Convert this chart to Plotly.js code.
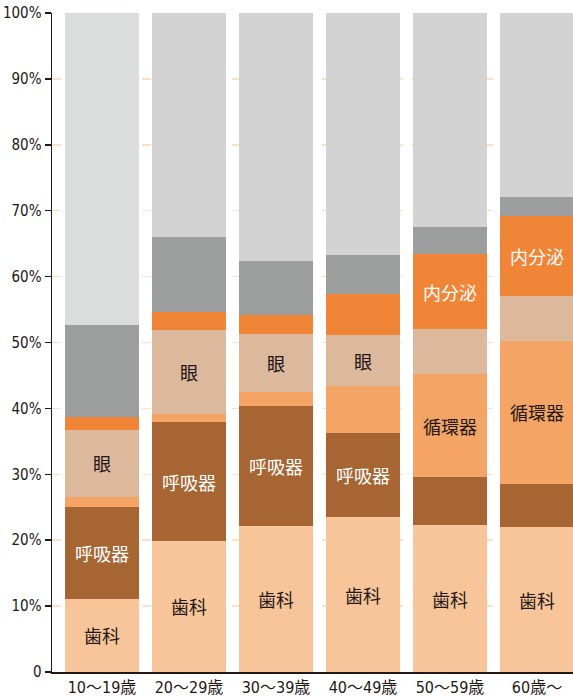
<!DOCTYPE html>
<html><head><meta charset="utf-8">
<script src="https://cdn.plot.ly/plotly-3.0.1.min.js"></script>
<style>html,body{margin:0;padding:0;background:#fff;}#chart{width:573px;height:697px;}</style>
</head><body><div id="chart"></div>
<script>
const categories = ["10〜19歳","20〜29歳","30〜39歳","40〜49歳","50〜59歳","60歳〜"];
const dental      = [11.1, 19.9, 22.2, 23.5, 22.3, 22.0];
const respiratory = [14.0, 18.0, 18.1, 12.8,  7.3,  6.6];
const circulatory = [ 1.5,  1.3,  2.2,  7.1, 15.6, 21.6];
const eye         = [10.1, 12.7,  8.8,  7.7,  6.8,  6.9];
const endocrine   = [ 2.0,  2.7,  2.9,  6.3, 11.4, 12.1];
const other       = [14.0, 11.4,  8.2,  5.9,  4.1,  2.9];
const rest        = [47.3, 34.0, 37.6, 36.7, 32.5, 27.9];
const dentalLabels      = ["歯科","歯科","歯科","歯科","歯科","歯科"];
const respiratoryLabels = ["呼吸器","呼吸器","呼吸器","呼吸器","",""];
const circulatoryLabels = ["","","","","循環器","循環器"];
const eyeLabels         = ["眼","眼","眼","眼","",""];
const endocrineLabels   = ["","","","","内分泌","内分泌"];
const yTickVals  = [0,10,20,30,40,50,60,70,80,90,100];
const yTickTexts = ["0","10%","20%","30%","40%","50%","60%","70%","80%","90%","100%"];

const dark = "#231815";
const font = "'Noto Sans CJK JP', 'Noto Sans', sans-serif";
const tickFont = "'Liberation Sans Narrow', 'DejaVu Sans Condensed', 'Noto Sans CJK JP', sans-serif";
function tr(y, color, labels, tcolor){
  return {type:"bar", x:categories, y:y, marker:{color:color, line:{width:0}},
    text:labels||null, textposition: labels? "inside":"none", insidetextanchor:"middle",
    textangle:0, constraintext:"none",
    textfont:{family:font, size:18, color:tcolor||dark}, hoverinfo:"none", cliponaxis:false};
}
const data = [
  tr(dental, "#F8C59A", dentalLabels, dark),
  tr(respiratory, "#A66532", respiratoryLabels, "#ffffff"),
  tr(circulatory, "#F4A566", circulatoryLabels, dark),
  tr(eye, "#DCB99C", eyeLabels, dark),
  tr(endocrine, "#F08537", endocrineLabels, "#ffffff"),
  tr(other, "#9C9E9D"),
  tr(rest, ["#DBDDDC","#D3D3D3","#D3D3D3","#D3D3D3","#D3D3D3","#D3D3D3"])
];
const layout = {
  width:573, height:697, margin:{l:52, r:0, t:13, b:25},
  paper_bgcolor:"#fff", plot_bgcolor:"#fff",
  barmode:"stack", bargap:0.15, showlegend:false,
  uniformtext:{mode:false},
  xaxis:{type:"category", range:[-0.575, 5.414], showline:true, linecolor:dark, linewidth:1.5,
    ticks:"", showgrid:false, tickfont:{family:tickFont, size:16, color:dark}, ticklabelstandoff:0, fixedrange:true},
  yaxis:{range:[0,100], tickvals:yTickVals, ticktext:yTickTexts, showline:true, linecolor:dark, linewidth:1.5,
    ticks:"outside", ticklen:6, tickwidth:1.5, tickcolor:dark,
    showgrid:true, gridcolor:"#FBE0C2", gridwidth:1.5, griddash:"dash", zeroline:false,
    tickfont:{family:tickFont, size:15, color:dark}, ticklabelstandoff:0, fixedrange:true}
};
Plotly.newPlot("chart", data, layout, {staticPlot:true, displayModeBar:false});
</script></body></html>
